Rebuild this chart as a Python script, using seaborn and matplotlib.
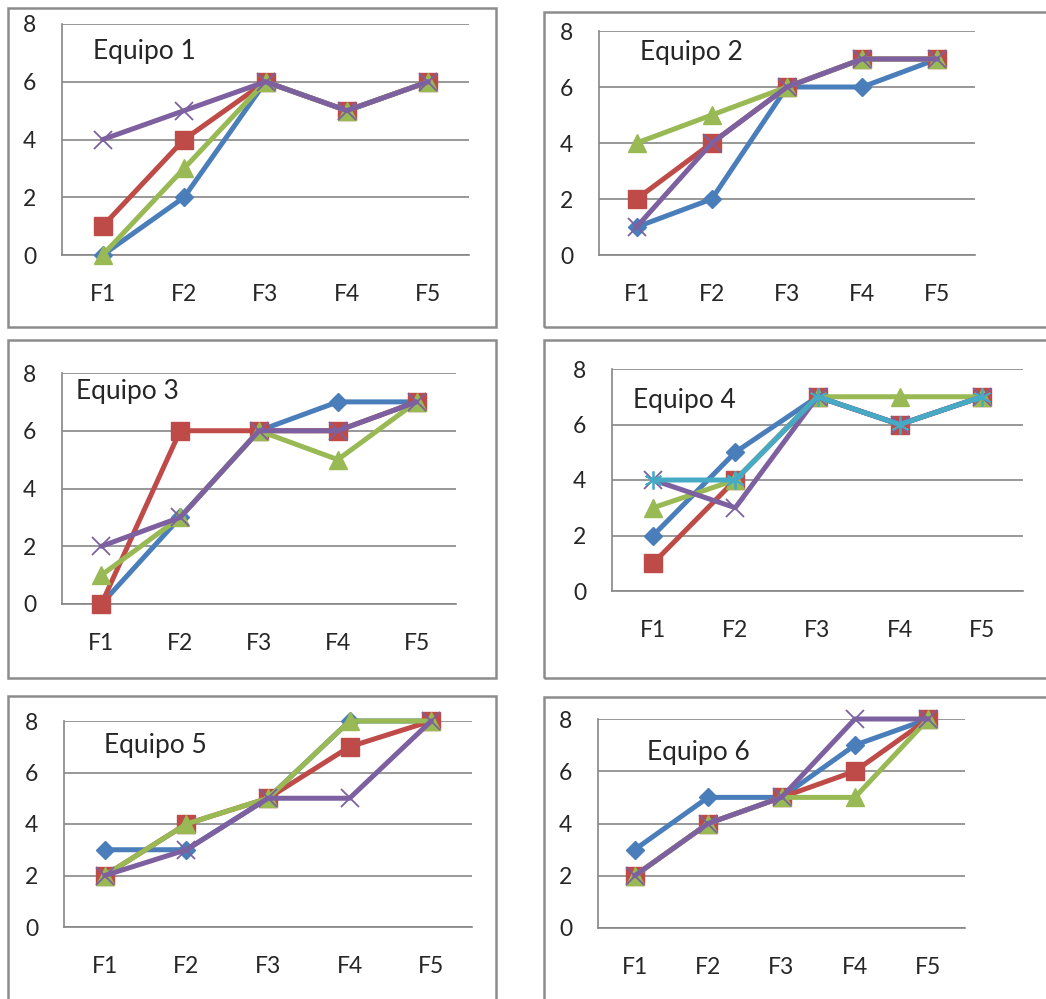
import numpy as np
import pandas as pd
import seaborn as sns
import matplotlib.pyplot as plt
from matplotlib.patches import Rectangle

# --- data ---
fases = ["F1", "F2", "F3", "F4", "F5"]
equipos = ["Equipo 1", "Equipo 2", "Equipo 3", "Equipo 4", "Equipo 5", "Equipo 6"]

# one list per series (azul, rojo, verde, morado, cian)
equipo1 = [[0, 2, 6, 5, 6], [1, 4, 6, 5, 6], [0, 3, 6, 5, 6], [4, 5, 6, 5, 6]]
equipo2 = [[1, 2, 6, 6, 7], [2, 4, 6, 7, 7], [4, 5, 6, 7, 7], [1, 4, 6, 7, 7]]
equipo3 = [[0, 3, 6, 7, 7], [0, 6, 6, 6, 7], [1, 3, 6, 5, 7], [2, 3, 6, 6, 7]]
equipo4 = [[2, 5, 7, 6, 7], [1, 4, 7, 6, 7], [3, 4, 7, 7, 7], [4, 3, 7, 6, 7],
           [4, 4, 7, 6, 7]]
equipo5 = [[3, 3, 5, 8, 8], [2, 4, 5, 7, 8], [2, 4, 5, 8, 8], [2, 3, 5, 5, 8]]
equipo6 = [[3, 5, 5, 7, 8], [2, 4, 5, 6, 8], [2, 4, 5, 5, 8], [2, 4, 5, 8, 8]]

datos = [equipo1, equipo2, equipo3, equipo4, equipo5, equipo6]

# excel 2007 style series colours and markers
colores = ["#4A7EBB", "#BE4B48", "#98B954", "#7D60A0", "#46AAC5"]
marcadores = ["D", "s", "^", "x", (6, 2, 0)]
tam_marcador = [9, 13.5, 12.5, 13, 13]

# --- layout in pixels (x0, y0, x1, y1), y from the top ---
W, H = 1046, 999
cajas = [(8, 8, 496, 327), (544, 12, 1052, 327),
         (8, 340, 496, 678), (544, 340, 1052, 678),
         (8, 696, 496, 1005), (544, 697, 1052, 1005)]
areas = [(62, 24, 469, 255), (599, 31, 975, 255),
         (62, 373, 456, 604), (612, 369, 1023, 591),
         (64, 721, 472, 927), (598, 719, 965, 928)]
pos_titulo = [(0.076, 0.879), (0.109, 0.902), (0.036, 0.918),
              (0.051, 0.860), (0.098, 0.883), (0.134, 0.842)]

sns.set_style("white")
plt.rcParams["font.family"] = ["Lato", "DejaVu Sans"]
gris = "#868686"

fig = plt.figure(figsize=(W / 100, H / 100), dpi=100)


def frac(x0, y0, x1, y1):
    return [x0 / W, 1 - y1 / H, (x1 - x0) / W, (y1 - y0) / H]


for caja in cajas:
    l, b, w, h = frac(*caja)
    fig.add_artist(Rectangle((l, b), w, h, transform=fig.transFigure,
                             fill=False, ec="#8C8C8C", lw=1.8))

for i, equipo in enumerate(equipos):
    ax = fig.add_axes(frac(*areas[i]))
    for j, serie in enumerate(datos[i]):
        df = pd.DataFrame({"x": np.arange(len(fases)), "y": serie})
        sns.lineplot(data=df, x="x", y="y", ax=ax, color=colores[j],
                     marker=marcadores[j], markersize=tam_marcador[j],
                     markeredgewidth=1.3 if j >= 3 else 1,
                     markeredgecolor=colores[j], lw=3.6, clip_on=False,
                     zorder=3 + j)

    ax.set_xlim(-0.5, len(fases) - 0.5)
    ax.set_ylim(0, 8)
    ax.set_yticks([0, 2, 4, 6, 8])
    ax.set_xticks(np.arange(len(fases)))
    ax.set_xticklabels(fases)
    ax.set_xticks(np.arange(len(fases) + 1) - 0.5, minor=True)
    ax.set_xlabel("")
    ax.set_ylabel("")
    ax.yaxis.grid(True, color=gris, lw=1.2)
    ax.set_axisbelow(True)
    for s in ["top", "right"]:
        ax.spines[s].set_visible(False)
    for s in ["left", "bottom"]:
        ax.spines[s].set_color(gris)
        ax.spines[s].set_linewidth(1.2)
    ax.tick_params(axis="x", which="major", length=0, pad=21, labelsize=16.5)
    ax.tick_params(axis="x", which="minor", length=5.5, width=1.2,
                   color=gris, direction="out")
    ax.tick_params(axis="y", length=6.5, width=1.2, color=gris,
                   direction="out", pad=12, labelsize=16.5)
    ax.text(*pos_titulo[i], equipo, transform=ax.transAxes, fontsize=19,
            va="center", ha="left")

fig.savefig("out.png", dpi=100, facecolor="white")
